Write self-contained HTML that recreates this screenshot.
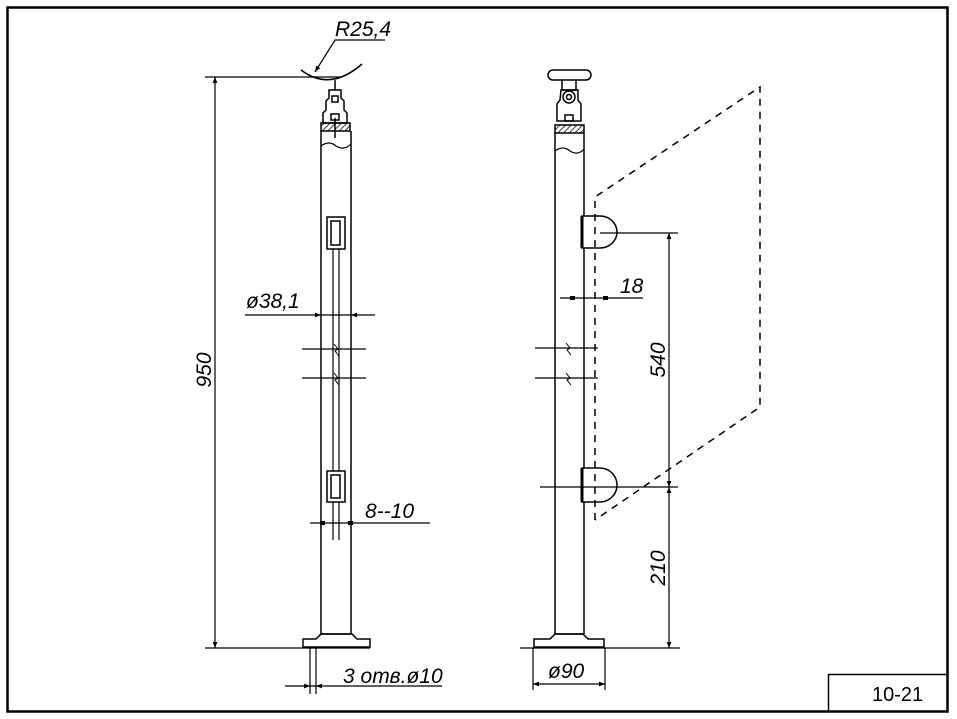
<!DOCTYPE html>
<html><head><meta charset="utf-8"><style>
html,body{margin:0;padding:0;background:#fff;}
svg{display:block;}
text{font-family:"Liberation Sans",sans-serif;fill:#000;}
.i{font-style:italic;font-size:21px;}
</style></head><body>
<svg width="957" height="719" viewBox="0 0 957 719" xmlns="http://www.w3.org/2000/svg">
<defs>
<pattern id="h" width="4" height="4" patternUnits="userSpaceOnUse" patternTransform="rotate(45)"><line x1="0" y1="0" x2="0" y2="4" stroke="#000" stroke-width="1.5"/></pattern>
<marker id="a" viewBox="0 0 10 10" refX="10" refY="5" markerWidth="10" markerHeight="6" orient="auto-start-reverse" markerUnits="userSpaceOnUse"><path d="M0,1 L10,5 L0,9z" fill="#000"/></marker>
</defs>
<g fill="none" stroke="#000">
<rect x="7.5" y="7.5" width="940" height="704" stroke-width="2.5"/>
<rect x="828.5" y="674.5" width="119" height="37" stroke-width="1.5"/>

<g stroke-width="1.5">
<path d="M301,70 Q330,92 362,64"/>
<line x1="205" y1="77" x2="340" y2="77" stroke-width="1.2"/>
<line x1="215" y1="77" x2="215" y2="648" stroke-width="1.2" marker-start="url(#a)" marker-end="url(#a)"/>
<line x1="205" y1="648" x2="370" y2="648" stroke-width="1.2"/>
<line x1="335" y1="80" x2="335" y2="90" />
<path d="M329,90 h12 v8 l3,3 v9 l3,3 v10 h-24 v-10 l3,-3 v-9 l3,-3z"/>
<rect x="332" y="96" width="6" height="6"/>
<rect x="331" y="114" width="8" height="6"/>
<rect x="321" y="123" width="29" height="8" fill="url(#h)"/>
<line x1="335" y1="118" x2="335" y2="138"/>
<line x1="321" y1="131" x2="321" y2="634"/>
<line x1="351" y1="131" x2="351" y2="634"/>
<path d="M321,146 q8,-6 15,0 q8,5 15,-2" stroke-width="1.2"/>
<line x1="333" y1="230" x2="333" y2="540" stroke-width="1.2"/>
<line x1="339" y1="230" x2="339" y2="540" stroke-width="1.2"/>
<rect x="327" y="217" width="18" height="32" fill="#fff"/>
<rect x="331" y="221" width="9" height="24"/>
<rect x="327" y="471" width="18" height="31" fill="#fff"/>
<rect x="331" y="475" width="9" height="23"/>
<path d="M302,349 h64 M302,378 h64" stroke-width="1.2"/>
<path d="M334,344 l4,5 -3,2 4,5 M334,373 l4,5 -3,2 4,5" stroke-width="1"/>
<line x1="245" y1="315" x2="375" y2="315" stroke-width="1.2"/>
<line x1="306" y1="315" x2="321" y2="315" marker-end="url(#a)" stroke-width="1"/>
<line x1="366" y1="315" x2="351" y2="315" marker-end="url(#a)" stroke-width="1"/>
<line x1="310" y1="523" x2="430" y2="523" stroke-width="1.2"/>
<rect x="320" y="521" width="5" height="4" fill="#000" stroke="none"/>
<rect x="348" y="521" width="5" height="4" fill="#000" stroke="none"/>
<path d="M321,634 l-5,5 h-13 v8 h67 v-8 h-13 l-5,-5z"/>
<line x1="321" y1="634" x2="351" y2="634"/>
<line x1="310" y1="648" x2="310" y2="694" stroke-width="1.2"/>
<line x1="316" y1="648" x2="316" y2="694" stroke-width="1.2"/>
<line x1="285" y1="686" x2="442" y2="686" stroke-width="1.2"/>
<line x1="294" y1="686" x2="310" y2="686" marker-end="url(#a)" stroke-width="1"/>
<line x1="332" y1="686" x2="316" y2="686" marker-end="url(#a)" stroke-width="1"/>
<path d="M385,40 h-50 l-20,32" stroke-width="1.2" marker-end="url(#a)"/>
</g>

<g stroke-width="1.5">
<rect x="548" y="70" width="43" height="10" rx="5"/>
<path d="M562,80 v10 h14 v-10"/>
<circle cx="569" cy="97" r="6"/><circle cx="569" cy="97" r="2.5"/>
<path d="M561,90 h17 v10 l3,4 v17 h-24 v-17 l3,-4z"/>
<rect x="565" y="115" width="8" height="6"/>
<rect x="555" y="125" width="29" height="8" fill="url(#h)"/>
<line x1="555" y1="133" x2="555" y2="634"/>
<line x1="584" y1="133" x2="584" y2="634"/>
<path d="M555,151 q8,-6 15,0 q8,5 14,-2" stroke-width="1.2"/>
<path d="M582,216 h18 a17,16 0 0 1 0,32 h-18z" fill="#fff"/>
<path d="M582,468 h18 a17,17 0 0 1 0,34 h-18z" fill="#fff"/>
<line x1="582" y1="216" x2="582" y2="248" stroke-width="3"/>
<line x1="582" y1="468" x2="582" y2="502" stroke-width="3"/>
<path d="M535,348 h63 M535,378 h63" stroke-width="1.2"/>
<path d="M566,343 l4,5 -3,2 4,5 M566,373 l4,5 -3,2 4,5" stroke-width="1"/>
<path d="M555,634 l-5,5 h-16 v8 h70 v-8 h-16 l-5,-5z"/>
<line x1="555" y1="634" x2="584" y2="634"/>
<line x1="520" y1="648" x2="680" y2="648" stroke-width="1.2"/>
<line x1="533" y1="648" x2="533" y2="690" stroke-width="1.2"/>
<line x1="605" y1="648" x2="605" y2="690" stroke-width="1.2"/>
<line x1="533" y1="684" x2="605" y2="684" stroke-width="1.2" marker-start="url(#a)" marker-end="url(#a)"/>
<line x1="560" y1="298" x2="643" y2="298" stroke-width="1.2"/>
<rect x="570" y="296" width="5" height="4" fill="#000" stroke="none"/>
<rect x="603" y="296" width="5" height="4" fill="#000" stroke="none"/>
<line x1="600" y1="233" x2="678" y2="233" stroke-width="1.2"/>
<line x1="540" y1="487" x2="678" y2="487" stroke-width="1.2"/>
<line x1="669" y1="233" x2="669" y2="487" stroke-width="1.2" marker-start="url(#a)" marker-end="url(#a)"/>
<line x1="669" y1="487" x2="669" y2="648" stroke-width="1.2" marker-start="url(#a)" marker-end="url(#a)"/>
<path d="M595,520 V197 L760,87 V407 L595,520" stroke-dasharray="7,6" stroke-width="1.5"/>
</g>
</g>

<text x="872" y="701" font-size="20">10-21</text>
<text class="i" x="335" y="36">R25,4</text>
<text class="i" x="246" y="308">ø38,1</text>
<text class="i" x="365" y="518">8--10</text>
<text class="i" x="343" y="683">3  отв.ø10</text>
<text class="i" x="548" y="678">ø90</text>
<text class="i" x="620" y="293">18</text>
<text class="i" transform="translate(211,370) rotate(-90)" text-anchor="middle">950</text>
<text class="i" transform="translate(665,360) rotate(-90)" text-anchor="middle">540</text>
<text class="i" transform="translate(665,568) rotate(-90)" text-anchor="middle">210</text>
</svg>
</body></html>
